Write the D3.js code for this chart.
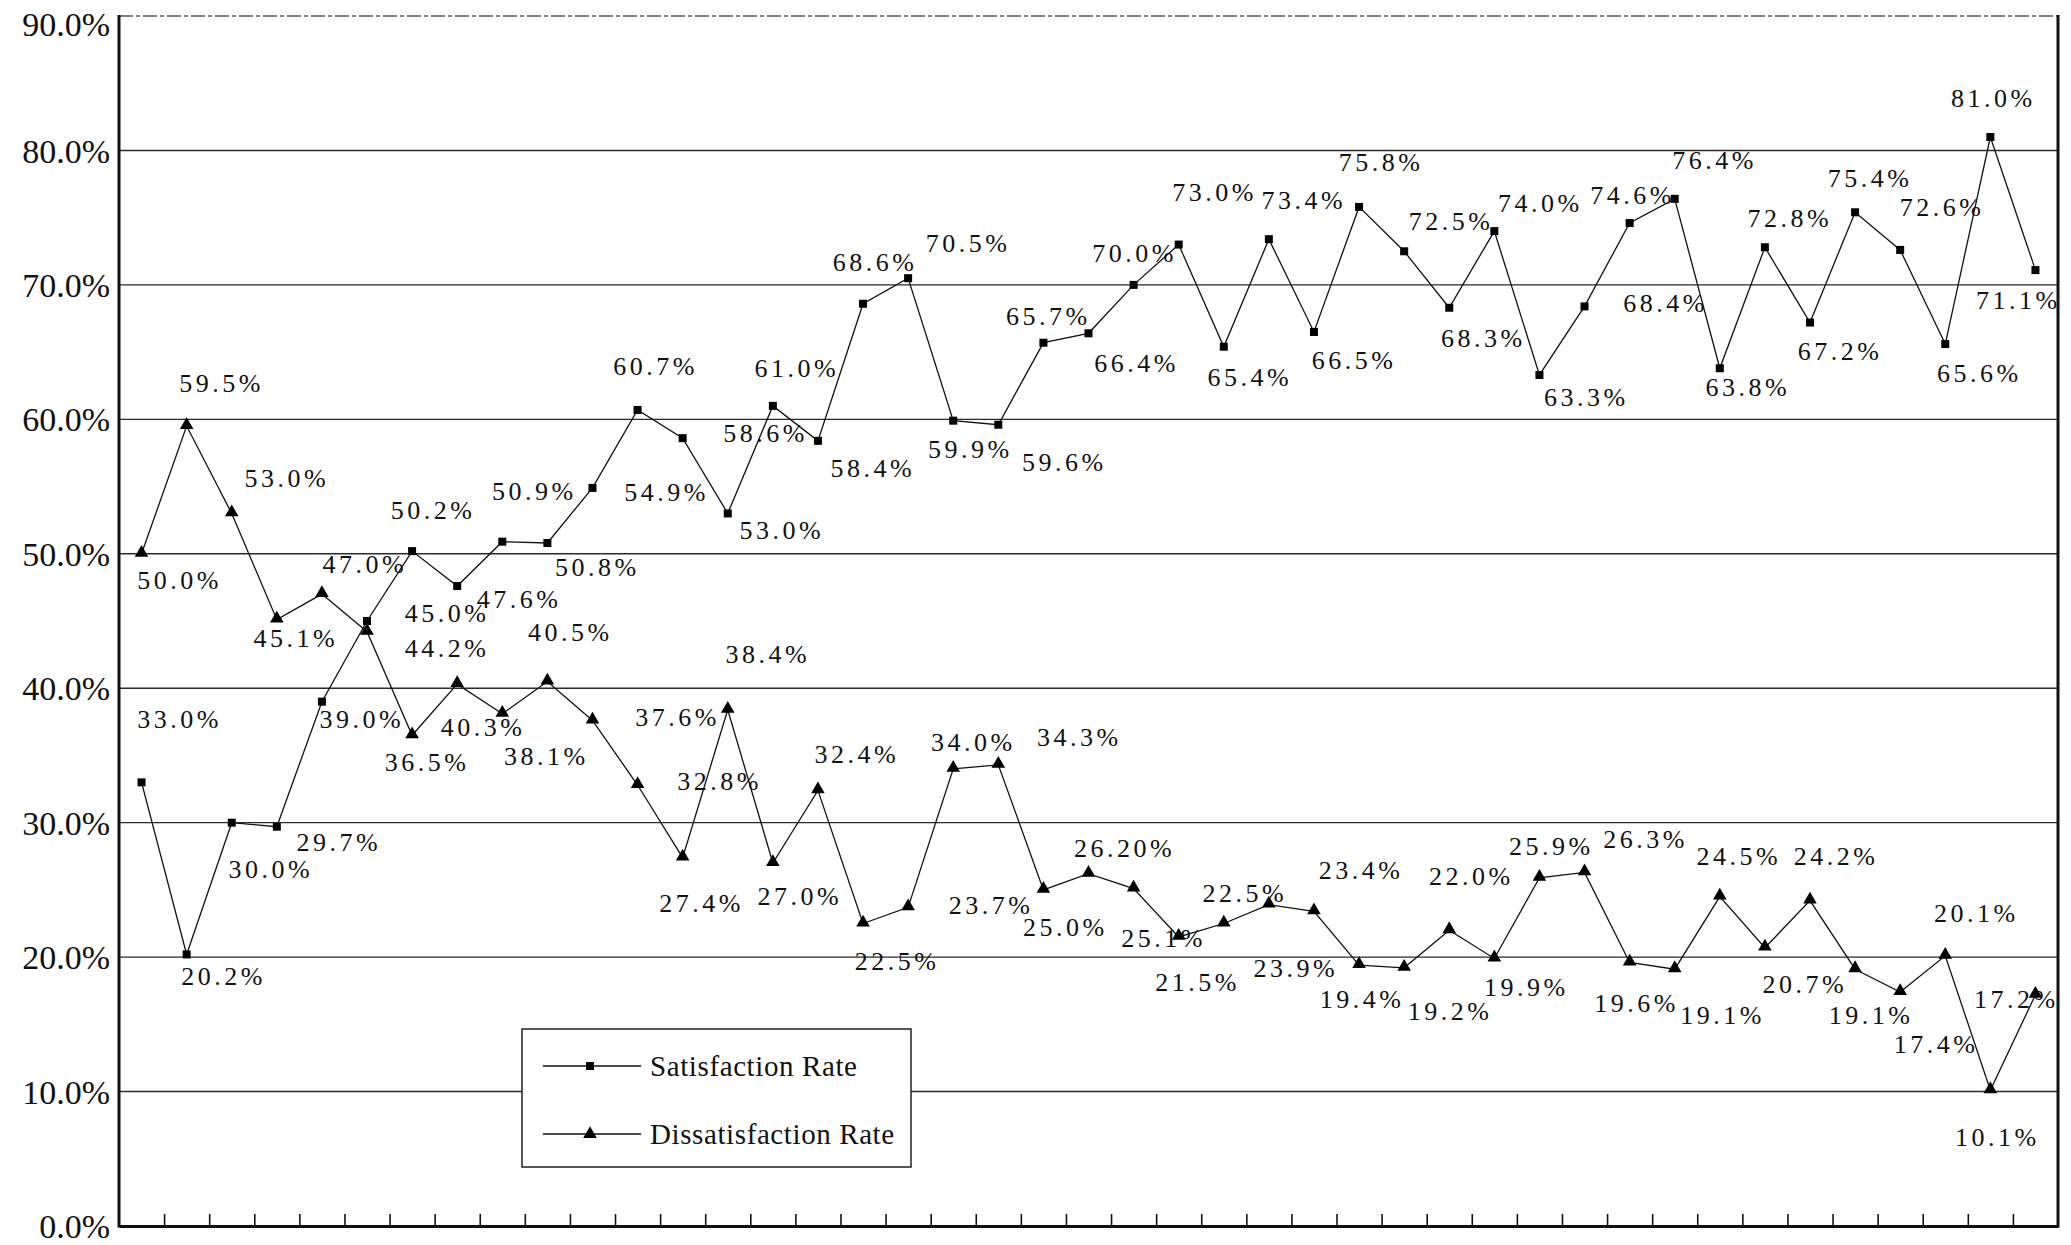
<!DOCTYPE html>
<html>
<head>
<meta charset="utf-8">
<script src="https://cdn.jsdelivr.net/npm/d3@7"></script>
<style>
  html, body { margin: 0; padding: 0; background: #ffffff; }
  svg { display: block; }
</style>
</head>
<body>
<svg id="chart" width="2071" height="1245"></svg>
<script>
// ---------------- data ----------------
const periods = [1,2,3,4,5,6,7,8,9,10,11,12,13,14,15,16,17,18,19,20,21,22,23,24,25,26,27,28,29,30,31,32,33,34,35,36,37,38,39,40,41,42,43];

const satisfaction = [33.0,20.2,30.0,29.7,39.0,45.0,50.2,47.6,50.9,50.8,
  54.9,60.7,58.6,53.0,61.0,58.4,68.6,70.5,59.9,59.6,
  65.7,66.4,70.0,73.0,65.4,73.4,66.5,75.8,72.5,68.3,
  74.0,63.3,68.4,74.6,76.4,63.8,72.8,67.2,75.4,72.6,
  65.6,81.0,71.1];

const dissatisfaction = [50.0,59.5,53.0,45.1,47.0,44.2,36.5,40.3,38.1,40.5,
  37.6,32.8,27.4,38.4,27.0,32.4,22.5,23.7,34.0,34.3,
  25.0,26.2,25.1,21.5,22.5,23.9,23.4,19.4,19.2,22.0,
  19.9,25.9,26.3,19.6,19.1,24.5,20.7,24.2,19.1,17.4,
  20.1,10.1,17.2];

// label text exactly as printed where it differs from the default format
const dissatisfactionLabelOverrides = {21: "26.20%"};

const seriesNames = ["Satisfaction Rate", "Dissatisfaction Rate"];

const yTicks = [0,10,20,30,40,50,60,70,80,90];
const yTickLabels = ["0.0%","10.0%","20.0%","30.0%","40.0%","50.0%","60.0%","70.0%","80.0%","90.0%"];

// ---------------- layout (label placement relative to each point, px) ----------------
const satLabelOffsets = [
  [36,-63],[35,22],[37,46],[60,15],[38,17],[78,-8],[19,-41],[60,13],[30,-51],[48,24],
  [72,4],[16,-44],[81,-5],[52,17],[22,-38],[53,27],[10,-42],[58,-35],[15,28],[64,37],
  [3,-27],[46,30],[-1,-32],[34,-53],[24,30],[33,-39],[38,28],[20,-45],[45,-30],[32,30],
  [44,-28],[45,22],[79,-3],[1,-28],[38,-39],[26,19],[23,-29],[28,28],[13,-34],[40,-43],
  [32,29],[1,-39],[-19,30]];
const disLabelOffsets = [
  [36,26],[33,-43],[53,-35],[17,18],[41,-30],[78,16],[13,27],[24,43],[42,42],[21,-50],
  [83,-3],[80,-4],[17,45],[38,-56],[25,33],[37,-36],[32,37],[81,-2],[18,-27],[79,-28],
  [20,37],[34,-26],[28,49],[17,45],[19,-31],[25,63],[45,-41],[1,34],[44,43],[20,-54],
  [30,29],[10,-32],[59,-33],[5,41],[46,46],[17,-41],[38,36],[24,-45],[14,46],[34,52],
  [29,-43],[5,47],[-21,4]];

const plot = {left: 119, right: 2058, top: 16, bottom: 1226};
const serif = "Liberation Serif, Times New Roman, serif";

const svg = d3.select("#chart");
svg.append("rect").attr("width", 2071).attr("height", 1245).attr("fill", "#fff");

const x = d3.scaleLinear().domain([0, periods.length]).range([plot.left, plot.right]);
const y = d3.scaleLinear().domain([0, 90]).range([plot.bottom, plot.top]);
const px = i => x(i + 0.5);

// gridlines
const grid = svg.append("g");
grid.selectAll("line").data(yTicks.filter(t => t > 0 && t < 90)).join("line")
  .attr("x1", plot.left).attr("x2", plot.right)
  .attr("y1", d => y(d)).attr("y2", d => y(d))
  .attr("stroke", "#2a2a2a").attr("stroke-width", 1.4);
// top frame line (faint, broken as in the scan)
svg.append("line")
  .attr("x1", plot.left).attr("x2", plot.right)
  .attr("y1", y(90)).attr("y2", y(90))
  .attr("stroke", "#555").attr("stroke-width", 1.6)
  .attr("stroke-dasharray", "14,3,4,3");

// y axis
const yAxis = d3.axisLeft(y).tickValues(yTicks)
  .tickFormat((d, i) => yTickLabels[i]).tickSize(0).tickPadding(9);
const gy = svg.append("g").attr("transform", `translate(${plot.left},0)`).call(yAxis);
gy.select(".domain").remove();
gy.selectAll("text")
  .attr("font-family", serif).attr("font-size", 34).attr("fill", "#111")
  .attr("dy", d => d === 90 ? "0.58em" : "0.34em");

// x axis with ticks at category boundaries (pointing inwards)
const xAxis = d3.axisBottom(x).tickValues(periods.slice(0, periods.length - 1))
  .tickFormat("").tickSize(-12).tickSizeOuter(0);
const gx = svg.append("g").attr("transform", `translate(0,${plot.bottom})`).call(xAxis);
gx.select(".domain").attr("stroke", "#111").attr("stroke-width", 3);
gx.selectAll(".tick line").attr("stroke", "#111").attr("stroke-width", 1.6);

// left and right frame
svg.append("line").attr("x1", plot.left).attr("x2", plot.left)
  .attr("y1", y(90) - 1).attr("y2", plot.bottom + 1.5)
  .attr("stroke", "#111").attr("stroke-width", 3);
svg.append("line").attr("x1", plot.right).attr("x2", plot.right)
  .attr("y1", y(90) - 1).attr("y2", plot.bottom + 1.5)
  .attr("stroke", "#111").attr("stroke-width", 3);

// lines
const line = d3.line().x((d, i) => px(i)).y(d => y(d));
[satisfaction, dissatisfaction].forEach(s => {
  svg.append("path").datum(s).attr("d", line)
    .attr("fill", "none").attr("stroke", "#111").attr("stroke-width", 1.3);
});

// markers
const squareSym = d3.symbol().type(d3.symbolSquare).size(64);
const triSym = d3.symbol().type(d3.symbolTriangle).size(80);
svg.append("g").selectAll("path").data(satisfaction).join("path")
  .attr("d", squareSym)
  .attr("transform", (d, i) => `translate(${px(i)},${y(d)})`)
  .attr("fill", "#000");
svg.append("g").selectAll("path").data(dissatisfaction).join("path")
  .attr("d", triSym)
  .attr("transform", (d, i) => `translate(${px(i)},${y(d) - 1})`)
  .attr("fill", "#000");

// data labels
const fmt = d3.format(".1f");
function drawLabels(values, offsets, overrides) {
  svg.append("g").selectAll("text").data(values).join("text")
    .attr("x", (d, i) => px(i) + offsets[i][0] + 2)
    .attr("y", (d, i) => y(d) + offsets[i][1] + 9)
    .attr("text-anchor", "middle")
    .attr("font-family", serif).attr("font-size", 26)
    .attr("letter-spacing", "3.5px")
    .attr("fill", "#111")
    .text((d, i) => overrides[i] !== undefined ? overrides[i] : fmt(d) + "%");
}
drawLabels(satisfaction, satLabelOffsets, {});
drawLabels(dissatisfaction, disLabelOffsets, dissatisfactionLabelOverrides);

// legend
const legend = svg.append("g").attr("transform", "translate(522,1029)");
legend.append("rect").attr("width", 389).attr("height", 138)
  .attr("fill", "#fff").attr("stroke", "#222").attr("stroke-width", 1.5);
const legendRows = [
  {name: seriesNames[0], sym: squareSym, cy: 37},
  {name: seriesNames[1], sym: triSym, cy: 105}
];
legendRows.forEach(r => {
  legend.append("line").attr("x1", 21).attr("x2", 119)
    .attr("y1", r.cy).attr("y2", r.cy)
    .attr("stroke", "#111").attr("stroke-width", 1.3);
  legend.append("path").attr("d", r.sym)
    .attr("transform", `translate(68,${r.cy})`).attr("fill", "#000");
  legend.append("text").attr("x", 128).attr("y", r.cy + 10)
    .attr("font-family", serif).attr("font-size", 29)
    .attr("letter-spacing", "0.6px")
    .attr("fill", "#111").text(r.name);
});
</script>
</body>
</html>
